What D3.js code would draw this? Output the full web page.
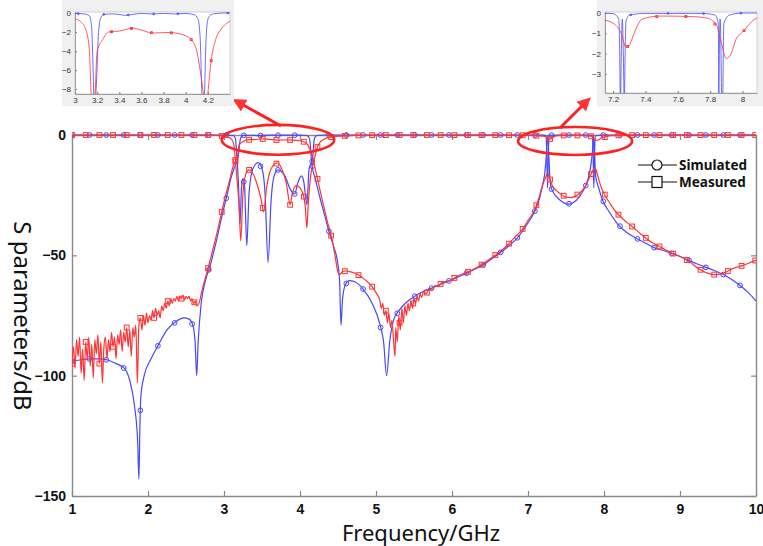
<!DOCTYPE html>
<html>
<head>
<meta charset="utf-8">
<script src="https://cdn.jsdelivr.net/npm/d3@7"></script>
<style>
  body { margin: 0; background: #fff; }
  svg { display: block; }
  .axis text { font-family: "Liberation Sans", Arial, sans-serif; font-weight: bold; font-size: 14px; fill: #111; }
  .axis-title { font-family: "Noto Sans", sans-serif; font-size: 24px; fill: #111; }
  .x-title { font-size: 22px; }
  .legend text { font-family: "Noto Sans", sans-serif; font-weight: bold; font-size: 13.5px; fill: #111; }
  .inset .axis text { font-family: "Liberation Sans", Arial, sans-serif; font-weight: normal; font-size: 8px; fill: #333; }
</style>
</head>
<body>
<div id="chart"></div>
<script>
// ---- data (frequency GHz, dB) ----
const xTicks = [1, 2, 3, 4, 5, 6, 7, 8, 9, 10];
const yTicks = [0, -50, -100, -150];
const legendLabels = ['Simulated', 'Measured'];

const simS11 = [
  [1.0, 0], [2.9, 0], [3.0, -0.05], [3.08, -0.1], [3.13, -0.3], [3.15, -1.5], [3.16, -4.5], [3.17, -9],
  [3.19, -20], [3.21, -37], [3.23, -22], [3.25, -18], [3.27, -21], [3.30, -46], [3.33, -24], [3.38, -14],
  [3.45, -11.5], [3.5, -14], [3.54, -24], [3.58, -53], [3.62, -27], [3.66, -17], [3.71, -14.5], [3.8, -17],
  [3.88, -23], [3.93, -24.5], [3.97, -20], [4.02, -17], [4.05, -19.5], [4.09, -29], [4.12, -14], [4.16, -11],
  [4.17, -8.5], [4.18, -4], [4.19, -1.5], [4.21, -0.4], [4.25, -0.1], [4.35, 0], [7.1, 0], [7.2, -0.03],
  [7.235, -0.3], [7.245, -5], [7.257, -22], [7.27, -5], [7.28, -0.4], [7.3, -0.1], [7.4, -0.02], [7.75, -0.02],
  [7.83, -0.1], [7.85, -0.5], [7.855, -5], [7.866, -22], [7.878, -5], [7.885, -0.5], [7.92, -0.1], [8.0, 0], [10, 0]
];

const simS21 = [
  [1.0, -94], [1.1, -93.5], [1.24, -93], [1.35, -93], [1.47, -93.5], [1.58, -95], [1.69, -97], [1.76, -102],
  [1.82, -112], [1.865, -128], [1.88, -143], [1.893, -122], [1.905, -109], [1.95, -100], [2.04, -93], [2.14, -87],
  [2.25, -81], [2.37, -77.5], [2.47, -76], [2.54, -76.5], [2.59, -79], [2.62, -86], [2.64, -100], [2.66, -86],
  [2.7, -70], [2.76, -60], [2.82, -54], [2.9, -44], [2.97, -34], [3.04, -25], [3.1, -17], [3.15, -12.5],
  [3.18, -10], [3.195, -7], [3.21, -2.5], [3.23, -0.6], [3.26, -0.15], [3.35, -0.1], [3.42, -0.2], [3.46, -0.25],
  [3.52, -0.15], [3.6, -0.05], [3.7, -0.1], [3.8, -0.05], [3.9, -0.1], [4.0, -0.05], [4.08, -0.2], [4.11, -0.6],
  [4.13, -2.5], [4.146, -8.5], [4.16, -13], [4.2, -18], [4.27, -27], [4.33, -34], [4.38, -40], [4.44, -46],
  [4.49, -52], [4.52, -60], [4.54, -79], [4.56, -68], [4.6, -62], [4.65, -60.5], [4.72, -61], [4.83, -64],
  [4.95, -70], [5.05, -78.5], [5.1, -86], [5.14, -100], [5.18, -86], [5.23, -77], [5.29, -73.5], [5.4, -69.5],
  [5.51, -67], [5.62, -65], [5.74, -63.5], [5.85, -62], [5.97, -60.5], [6.08, -59], [6.2, -57.3], [6.3, -55.8],
  [6.41, -54], [6.52, -51.5], [6.63, -49], [6.75, -46], [6.87, -42.4], [6.98, -37.5], [7.09, -31.6], [7.15, -26.5],
  [7.19, -21], [7.22, -16], [7.24, -9], [7.252, -1.5], [7.257, -0.3], [7.262, -1.5], [7.275, -9], [7.29, -19],
  [7.31, -22.5], [7.42, -27], [7.53, -28.7], [7.64, -27], [7.72, -23.5], [7.76, -21], [7.8, -17], [7.83, -12],
  [7.85, -6], [7.862, -0.3], [7.874, -6], [7.89, -17], [7.93, -22], [7.98, -27], [8.07, -32], [8.18, -37],
  [8.3, -40.5], [8.43, -43], [8.55, -45], [8.66, -46.8], [8.78, -48], [8.89, -49.2], [9.0, -50.5], [9.11, -52],
  [9.22, -53.5], [9.34, -55], [9.45, -56.3], [9.57, -58], [9.68, -60], [9.79, -62.5], [9.9, -65.5], [10, -69]
];

const measS11 = [
  [1.0, 0], [2.8, 0], [2.95, -0.3], [3.0, -0.6], [3.05, -0.9], [3.1, -1.8], [3.13, -4], [3.145, -8.5],
  [3.17, -18], [3.2, -30], [3.22, -44], [3.25, -24], [3.29, -16], [3.33, -14.5], [3.38, -16], [3.44, -21],
  [3.49, -27], [3.52, -32], [3.56, -22], [3.62, -14], [3.70, -11.6], [3.76, -14], [3.82, -20], [3.87, -29],
  [3.9, -24], [3.95, -21], [4.0, -22], [4.05, -25.6], [4.07, -30], [4.09, -38.6], [4.11, -28], [4.14, -17],
  [4.18, -11], [4.2, -8.5], [4.23, -5], [4.27, -2.8], [4.32, -1.7], [4.38, -1.0], [4.5, -0.5], [4.7, -0.2],
  [5.0, -0.05], [5.5, 0], [7.0, -0.1], [7.15, -0.35], [7.2, -0.5], [7.25, -1.0], [7.28, -1.7], [7.30, -1.6],
  [7.33, -1.0], [7.38, -0.3], [7.49, -0.15], [7.7, -0.18], [7.78, -0.25], [7.84, -0.6], [7.87, -1.5], [7.9, -2.25],
  [7.93, -2.0], [7.96, -1.3], [8.0, -0.95], [8.09, -0.25], [8.3, -0.05], [10, 0]
];

const measS21 = [
  [1.00, -95], [1.02, -88], [1.04, -97], [1.06, -85], [1.08, -92], [1.10, -84], [1.12, -99], [1.14, -89],
  [1.16, -102], [1.18, -86], [1.20, -93], [1.22, -84], [1.24, -96], [1.26, -87], [1.28, -101], [1.30, -85],
  [1.32, -91], [1.34, -83], [1.36, -95], [1.38, -86], [1.40, -103], [1.42, -88], [1.44, -84], [1.46, -93],
  [1.48, -85], [1.50, -90], [1.52, -82], [1.54, -88], [1.56, -84], [1.58, -93], [1.60, -83], [1.62, -87],
  [1.64, -81], [1.66, -90], [1.68, -82], [1.70, -86], [1.72, -80], [1.74, -88], [1.76, -81], [1.78, -92],
  [1.80, -80], [1.82, -84], [1.84, -79], [1.86, -103], [1.88, -79], [1.90, -76], [1.92, -81], [1.94, -75],
  [1.96, -79], [1.98, -74], [2.00, -78], [2.02, -75], [2.04, -77], [2.06, -73], [2.08, -76], [2.10, -72],
  [2.12, -75], [2.14, -73], [2.16, -76], [2.18, -71], [2.20, -73], [2.22, -70], [2.24, -72], [2.26, -69],
  [2.28, -71], [2.30, -68], [2.32, -70], [2.34, -68], [2.36, -69], [2.38, -67], [2.40, -69], [2.42, -67],
  [2.44, -68], [2.46, -66.5], [2.48, -68.5], [2.50, -67], [2.52, -68], [2.54, -67], [2.56, -69], [2.58, -68],
  [2.60, -70], [2.62, -69], [2.64, -71], [2.66, -70.5], [2.68, -69], [2.70, -66], [2.74, -61], [2.78, -56.5],
  [2.85, -48], [2.92, -39], [2.97, -32], [3.03, -24], [3.08, -18], [3.12, -13], [3.15, -11], [3.17, -9],
  [3.18, -8.5], [3.2, -4], [3.25, -2.8], [3.3, -2.0], [3.4, -1.9], [3.52, -1.6], [3.6, -1.8], [3.7, -2.1],
  [3.85, -2.05], [3.95, -2.2], [4.0, -2.4], [4.05, -2.8], [4.1, -4], [4.13, -6], [4.16, -8.5], [4.2, -14],
  [4.3, -28], [4.36, -36], [4.42, -43], [4.46, -50], [4.5, -57], [4.52, -58], [4.55, -57], [4.6, -56.5],
  [4.68, -57], [4.76, -58], [4.85, -60], [4.95, -63], [5.0, -65.5], [5.05, -68.5], [5.07, -72], [5.09, -70],
  [5.11, -75], [5.13, -73], [5.15, -78], [5.17, -74], [5.19, -80], [5.21, -77], [5.23, -85], [5.25, -92],
  [5.26, -80], [5.28, -86], [5.30, -75], [5.32, -81], [5.34, -72], [5.36, -78], [5.38, -71], [5.40, -75],
  [5.42, -70], [5.44, -73], [5.46, -69], [5.48, -72], [5.50, -68], [5.52, -70], [5.54, -67], [5.56, -69],
  [5.58, -66], [5.60, -67.5], [5.63, -65], [5.66, -66], [5.70, -64], [5.74, -64.5], [5.78, -62.5], [5.82, -63],
  [5.86, -61.5], [5.9, -61], [5.97, -60.5], [6.08, -58.5], [6.2, -57], [6.3, -55.5], [6.41, -53.5], [6.52, -51],
  [6.63, -48.5], [6.74, -45.5], [6.84, -42], [6.92, -39.5], [7.0, -35.5], [7.09, -31], [7.14, -26.5], [7.18, -22],
  [7.22, -18.5], [7.26, -15.8], [7.29, -18.5], [7.32, -21], [7.37, -23], [7.42, -24.3], [7.5, -25.8], [7.56, -26],
  [7.62, -25.5], [7.7, -23.5], [7.76, -21], [7.81, -17.5], [7.85, -15], [7.88, -13.7], [7.91, -16], [7.95, -20.5],
  [7.99, -23.7], [8.08, -28.5], [8.17, -32.5], [8.27, -35.5], [8.37, -38], [8.48, -41], [8.6, -44], [8.74, -46.5],
  [8.89, -49], [9.0, -50.5], [9.07, -51.5], [9.16, -53.5], [9.25, -55.7], [9.37, -57.5], [9.45, -58], [9.53, -57.8],
  [9.6, -57], [9.66, -56], [9.74, -55], [9.82, -54.3], [9.9, -53.3], [10, -52]
];

// frequencies where the plotting markers sit
const simMarkFreq = [1.0, 1.23, 1.45, 1.68, 1.9, 2.13, 2.35, 2.58, 2.8, 3.03, 3.26, 3.48, 3.71, 3.93, 4.16,
  4.38, 4.61, 4.83, 5.06, 5.28, 5.51, 5.73, 5.96, 6.19, 6.41, 6.64, 6.86, 7.09, 7.31, 7.54, 7.76, 7.99,
  8.21, 8.44, 8.66, 8.89, 9.12, 9.34, 9.57, 9.79];
const measMarkFreq = [1.0, 1.18, 1.36, 1.54, 1.72, 1.9, 2.08, 2.26, 2.44, 2.61, 2.79, 2.97, 3.15, 3.33,
  3.51, 3.69, 3.87, 4.05, 4.23, 4.41, 4.59, 4.77, 4.95, 5.13, 5.31, 5.49, 5.67, 5.85, 6.03, 6.21, 6.39,
  6.57, 6.75, 6.93, 7.11, 7.29, 7.47, 7.65, 7.83, 8.01, 8.19, 8.37, 8.55, 8.73, 8.91, 9.09, 9.27, 9.45,
  9.63, 9.81, 9.99];

// inset ticks
const inset1XTicks = [3, 3.2, 3.4, 3.6, 3.8, 4, 4.2];
const inset1YTicks = [0, -2, -4, -6, -8];
const inset2XTicks = [7.2, 7.4, 7.6, 7.8, 8];
const inset2YTicks = [0, -1, -2, -3];

// ---- layout ----
const width = 763, height = 546;
const plot = { left: 72, right: 756, top: 135, bottom: 496 };
const blue = '#4646ff', red = '#ff3434', axisGray = '#8a8a8a';

const svg = d3.select('#chart').append('svg')
  .attr('width', width)
  .attr('height', height)
  .attr('viewBox', [0, 0, width, height]);

const defs = svg.append('defs');

const x = d3.scaleLinear().domain([1, 10]).range([plot.left, plot.right]);
const y = d3.scaleLinear().domain([-150, 0]).range([plot.bottom, plot.top]);

function valueAt(series, f) {
  const i = d3.bisector(d => d[0]).left(series, f);
  if (i <= 0) return series[0][1];
  if (i >= series.length) return series[series.length - 1][1];
  const a = series[i - 1], b = series[i];
  return a[1] + (f - a[0]) / (b[0] - a[0]) * (b[1] - a[1]);
}

const traces = [
  { data: simS11, color: blue, marks: simMarkFreq, shape: 'circle' },
  { data: simS21, color: blue, marks: simMarkFreq, shape: 'circle' },
  { data: measS11, color: red, marks: measMarkFreq, shape: 'square' },
  { data: measS21, color: red, marks: measMarkFreq, shape: 'square' }
];

function drawTraces(g, xs, ys, size, width) {
  const line = d3.line()
    .x(d => xs(d[0]))
    .y(d => ys(d[1]))
    .curve(d3.curveMonotoneX);
  const [f0, f1] = xs.domain();
  traces.forEach(t => {
    g.append('path')
      .attr('d', line(t.data))
      .attr('fill', 'none')
      .attr('stroke', t.color)
      .attr('stroke-width', width);
    const pts = t.marks.filter(f => f >= f0 && f <= f1).map(f => [f, valueAt(t.data, f)]);
    if (t.shape == 'circle') {
      g.selectAll(null).data(pts).join('circle')
        .attr('cx', d => xs(d[0]))
        .attr('cy', d => ys(d[1]))
        .attr('r', size)
        .attr('fill', 'none')
        .attr('stroke', t.color)
        .attr('stroke-width', 1);
    } else {
      g.selectAll(null).data(pts).join('rect')
        .attr('x', d => xs(d[0]) - size)
        .attr('y', d => ys(d[1]) - size)
        .attr('width', size * 2)
        .attr('height', size * 2)
        .attr('fill', 'none')
        .attr('stroke', t.color)
        .attr('stroke-width', 1);
    }
  });
}

// ---- main axes ----
function styleAxis(g) {
  g.selectAll('path.domain').attr('stroke', axisGray).attr('stroke-width', 1.4);
  g.selectAll('.tick line').attr('stroke', axisGray).attr('stroke-width', 1.2);
  g.attr('font-family', null).attr('font-size', null);
}

svg.append('g')
  .attr('class', 'axis')
  .attr('transform', `translate(0, ${plot.bottom})`)
  .call(d3.axisBottom(x).tickValues(xTicks).tickSize(-5).tickSizeOuter(0).tickPadding(8).tickFormat(d3.format('d')))
  .call(styleAxis);

svg.append('g')
  .attr('class', 'axis')
  .attr('transform', `translate(0, ${plot.top})`)
  .call(d3.axisTop(x).tickValues(xTicks).tickSize(-5).tickSizeOuter(0).tickFormat(''))
  .call(styleAxis);

svg.append('g')
  .attr('class', 'axis')
  .attr('transform', `translate(${plot.left}, 0)`)
  .call(d3.axisLeft(y).tickValues(yTicks).tickSize(-5).tickSizeOuter(0).tickPadding(6).tickFormat(d3.format('d')))
  .call(styleAxis);

svg.append('g')
  .attr('class', 'axis')
  .attr('transform', `translate(${plot.right}, 0)`)
  .call(d3.axisRight(y).tickValues(yTicks).tickSize(-5).tickSizeOuter(0).tickFormat(''))
  .call(styleAxis);

defs.append('clipPath').attr('id', 'clip-main')
  .append('rect')
  .attr('x', plot.left).attr('y', plot.top - 8)
  .attr('width', plot.right - plot.left).attr('height', plot.bottom - plot.top + 8);

drawTraces(svg.append('g').attr('clip-path', 'url(#clip-main)'), x, y, 2.4, 1.2);

// axis titles
svg.append('text')
  .attr('class', 'axis-title x-title')
  .attr('x', 421)
  .attr('y', 541)
  .attr('text-anchor', 'middle')
  .text('Frequency/GHz');

svg.append('text')
  .attr('class', 'axis-title')
  .attr('transform', 'translate(14, 316) rotate(90)')
  .attr('text-anchor', 'middle')
  .text('S parameters/dB');

// ---- legend ----
const legend = svg.append('g').attr('class', 'legend');
legendLabels.forEach((label, i) => {
  const ly = 165 + i * 17;
  legend.append('line')
    .attr('x1', 638).attr('x2', 677).attr('y1', ly).attr('y2', ly)
    .attr('stroke', '#111').attr('stroke-width', 1);
  if (i == 0) {
    legend.append('circle').attr('cx', 657).attr('cy', ly).attr('r', 5)
      .attr('fill', '#fff').attr('stroke', '#111').attr('stroke-width', 1.2);
  } else {
    legend.append('rect').attr('x', 652).attr('y', ly - 5.5).attr('width', 10).attr('height', 11)
      .attr('fill', '#fff').attr('stroke', '#111').attr('stroke-width', 1.2);
  }
  legend.append('text')
    .attr('x', 679).attr('y', ly)
    .attr('dy', '0.35em')
    .text(label);
});

// ---- zoom ellipses and arrows ----
defs.append('marker')
  .attr('id', 'arrow')
  .attr('viewBox', '0 0 10 10')
  .attr('refX', 7).attr('refY', 5)
  .attr('markerWidth', 4.5).attr('markerHeight', 4.5)
  .attr('orient', 'auto')
  .append('path')
  .attr('d', 'M0,0L10,5L0,10z')
  .attr('fill', red);

const ellipses = svg.append('g');
ellipses.append('ellipse')
  .attr('cx', x(3.71)).attr('cy', y(-2)).attr('rx', x(4.45) - x(3.71)).attr('ry', y(-8.2) - y(-2))
  .attr('fill', 'none').attr('stroke', '#ff2020').attr('stroke-width', 2.6);
ellipses.append('ellipse')
  .attr('cx', x(7.62)).attr('cy', y(-2.5)).attr('rx', x(8.37) - x(7.62)).attr('ry', y(-8.3) - y(-2.5))
  .attr('fill', 'none').attr('stroke', '#ff2020').attr('stroke-width', 2.6);

ellipses.append('line')
  .attr('x1', x(3.75)).attr('y1', 126).attr('x2', 236).attr('y2', 101)
  .attr('stroke', '#ff2020').attr('stroke-width', 3).attr('marker-end', 'url(#arrow)');
ellipses.append('line')
  .attr('x1', x(7.42)).attr('y1', 128).attr('x2', 588).attr('y2', 100)
  .attr('stroke', '#ff2020').attr('stroke-width', 3).attr('marker-end', 'url(#arrow)');

// ---- insets ----
function drawInset(id, box, xDom, yDom, xt, yt) {
  const g = svg.append('g').attr('class', 'inset');
  g.append('rect')
    .attr('x', box.bgX).attr('y', 0).attr('width', box.bgW).attr('height', 106)
    .attr('fill', '#f0f0f0');
  g.append('rect')
    .attr('x', box.left).attr('y', box.top)
    .attr('width', box.right - box.left).attr('height', box.bottom - box.top)
    .attr('fill', '#fff').attr('stroke', '#c8c8c8').attr('stroke-width', 0.8);

  const xs = d3.scaleLinear().domain(xDom).range([box.left, box.right]);
  const ys = d3.scaleLinear().domain(yDom).range([box.bottom, box.top]);

  g.append('g')
    .attr('class', 'axis')
    .attr('transform', `translate(0, ${box.bottom})`)
    .call(d3.axisBottom(xs).tickValues(xt).tickSize(-2).tickSizeOuter(0).tickPadding(3).tickFormat(d3.format('~g')))
    .call(styleAxis);
  g.append('g')
    .attr('class', 'axis')
    .attr('transform', `translate(${box.left}, 0)`)
    .call(d3.axisLeft(ys).tickValues(yt).tickSize(-2).tickSizeOuter(0).tickPadding(4).tickFormat(d3.format('~g')))
    .call(styleAxis);
  g.selectAll('path.domain').attr('stroke-width', 0.8);

  defs.append('clipPath').attr('id', id)
    .append('rect')
    .attr('x', box.left).attr('y', box.top)
    .attr('width', box.right - box.left).attr('height', box.bottom - box.top);
  drawTraces(g.append('g').attr('clip-path', `url(#${id})`), xs, ys, 0.9, 0.8);
}

drawInset('clip-in1', { bgX: 62, bgW: 172, left: 75, right: 230, top: 12, bottom: 94 },
  [3, 4.4], [-8.5, 0.1], inset1XTicks, inset1YTicks);
drawInset('clip-in2', { bgX: 597, bgW: 166, left: 605, right: 757, top: 12, bottom: 93 },
  [7.15, 8.09], [-3.95, 0.05], inset2XTicks, inset2YTicks);
</script>
</body>
</html>
